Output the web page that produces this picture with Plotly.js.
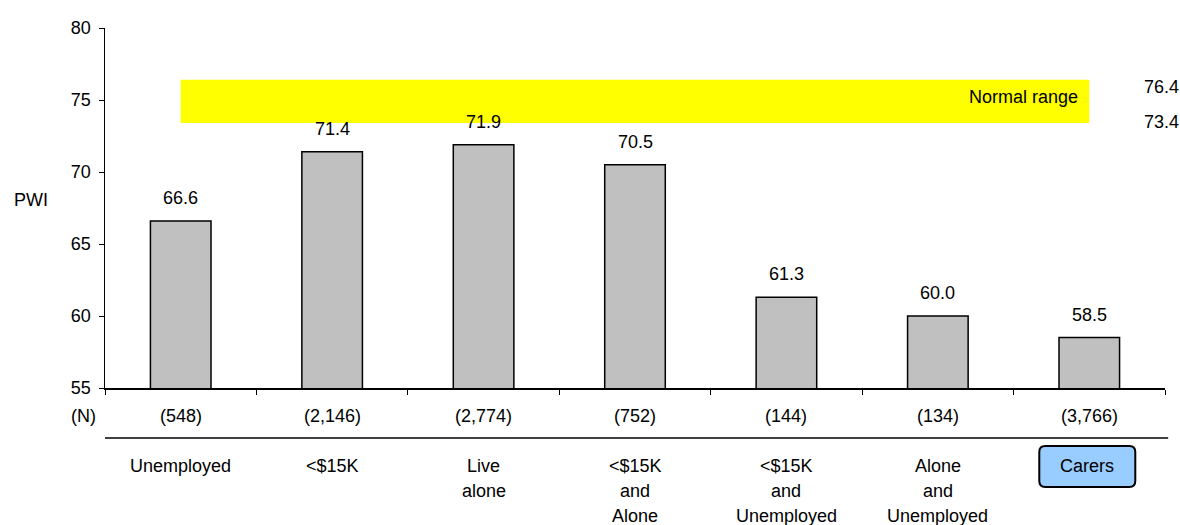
<!DOCTYPE html>
<html>
<head>
<meta charset="utf-8">
<script src="https://cdn.plot.ly/plotly-3.0.1.min.js"></script>
<style>
html,body{margin:0;padding:0;background:#fff;}
#chart{width:1180px;height:525px;}
</style>
</head>
<body>
<div id="chart"></div>
<script>
// ---- Data ----
const categories = ['Unemployed', '&lt;$15K', 'Live<br>alone', '&lt;$15K<br>and<br>Alone',
                    '&lt;$15K<br>and<br>Unemployed', 'Alone<br>and<br>Unemployed', 'Carers'];
const pwiValues = [66.6, 71.4, 71.9, 70.5, 61.3, 60.0, 58.5];
const sampleSizes = ['(548)', '(2,146)', '(2,774)', '(752)', '(144)', '(134)', '(3,766)'];
const normalRange = [73.4, 76.4];
const yTickVals = [55, 60, 65, 70, 75, 80];
const highlighted = 'Carers';

const FONT = 'Arial, "Liberation Sans", sans-serif';
const FS = 18;

const trace = {
  type: 'bar',
  x: categories,
  y: pwiValues,
  width: 0.4,
  marker: {color: '#c0c0c0', line: {color: '#000', width: 1.5}},
  hoverinfo: 'skip',
  showlegend: false
};

const annotations = [];
const LINE_Y0 = -0.2167; // paper y of first label line centre
const LINE_STEP = 25;     // px between label lines
categories.forEach((c, i) => {
  // value labels above bars
  annotations.push({
    xref: 'x', yref: 'y', x: c, y: pwiValues[i],
    text: pwiValues[i].toFixed(1), showarrow: false,
    xanchor: 'center', yanchor: 'middle', yshift: 23,
    font: {family: FONT, size: FS, color: '#000'}
  });
  // (N) row
  annotations.push({
    xref: 'x', yref: 'paper', x: c, y: -0.0778,
    text: sampleSizes[i], showarrow: false,
    xanchor: 'center', yanchor: 'middle',
    font: {family: FONT, size: FS, color: '#000'}
  });
  // category labels, one annotation per line for exact spacing
  c.split('<br>').forEach((line, k) => {
    annotations.push({
      xref: 'x', yref: 'paper', x: c, y: LINE_Y0, yshift: -k * LINE_STEP,
      xshift: c === highlighted ? -2 : 0,
      text: line, showarrow: false,
      xanchor: 'center', yanchor: 'middle',
      font: {family: FONT, size: FS, color: '#000'}
    });
  });
});
// axis side labels
annotations.push({xref: 'paper', yref: 'paper', x: -0.0877, y: 0.522, text: 'PWI',
  showarrow: false, xanchor: 'left', yanchor: 'middle', font: {family: FONT, size: FS, color: '#000'}});
annotations.push({xref: 'paper', yref: 'paper', x: -0.0340, y: -0.0778, text: '(N)',
  showarrow: false, xanchor: 'left', yanchor: 'middle', font: {family: FONT, size: FS, color: '#000'}});
// normal range labels
annotations.push({xref: 'x', yref: 'y', x: 6, y: (normalRange[0] + normalRange[1]) / 2,
  text: 'Normal range', showarrow: false, xanchor: 'right', yanchor: 'middle',
  xshift: -9, yshift: 4, font: {family: FONT, size: FS, color: '#000'}});
annotations.push({xref: 'paper', yref: 'y', x: 0.978, y: normalRange[1],
  text: normalRange[1].toFixed(1), showarrow: false, xanchor: 'left', yanchor: 'middle',
  yshift: -7, font: {family: FONT, size: FS, color: '#000'}});
annotations.push({xref: 'paper', yref: 'y', x: 0.978, y: normalRange[0],
  text: normalRange[0].toFixed(1), showarrow: false, xanchor: 'left', yanchor: 'middle',
  yshift: 1, font: {family: FONT, size: FS, color: '#000'}});

const hi = categories.indexOf(highlighted);
const r = 6, bx0 = -50, bx1 = 46, by0 = -99, by1 = -58;
const boxPath = `M ${bx0 + r} ${by1} L ${bx1 - r} ${by1} Q ${bx1} ${by1} ${bx1} ${by1 - r} ` +
  `L ${bx1} ${by0 + r} Q ${bx1} ${by0} ${bx1 - r} ${by0} L ${bx0 + r} ${by0} ` +
  `Q ${bx0} ${by0} ${bx0} ${by0 + r} L ${bx0} ${by1 - r} Q ${bx0} ${by1} ${bx0 + r} ${by1} Z`;

const shapes = [
  {type: 'rect', xref: 'x', yref: 'y', x0: 0, x1: 6, y0: normalRange[0], y1: normalRange[1],
   fillcolor: '#ffff00', line: {width: 0}, layer: 'below'},
  {type: 'line', xref: 'paper', yref: 'paper', x0: 0, x1: 1.003, y0: -0.1389, y1: -0.1389,
   line: {color: '#000', width: 1.5}},
  {type: 'path', xref: 'x', yref: 'paper', xsizemode: 'pixel', ysizemode: 'pixel',
   xanchor: hi, yanchor: 0, path: boxPath,
   fillcolor: '#99ccff', line: {color: '#000', width: 2}, layer: 'below'}
];

const layout = {
  width: 1180, height: 525,
  margin: {l: 105, r: 15, t: 28, b: 137},
  paper_bgcolor: '#fff', plot_bgcolor: '#fff',
  font: {family: FONT, size: FS, color: '#000'},
  bargap: 0.6,
  xaxis: {
    type: 'category', range: [-0.5, 6.5], showticklabels: false,
    showline: true, linecolor: '#000', linewidth: 1.5,
    ticks: 'outside', tickson: 'boundaries', ticklen: 5, tickcolor: '#000', tickwidth: 1,
    showgrid: false, zeroline: false, fixedrange: true
  },
  yaxis: {
    range: [55, 80], tickvals: yTickVals, ticktext: yTickVals.map(String),
    showline: true, linecolor: '#000', linewidth: 1.5,
    ticks: 'outside', ticklen: 5, tickcolor: '#000', tickwidth: 1,
    ticklabelstandoff: 4,
    showgrid: false, zeroline: false, fixedrange: true,
    tickfont: {family: FONT, size: FS, color: '#000'}
  },
  shapes: shapes,
  annotations: annotations
};

Plotly.newPlot('chart', [trace], layout, {displayModeBar: false, staticPlot: true});
</script>
</body>
</html>
